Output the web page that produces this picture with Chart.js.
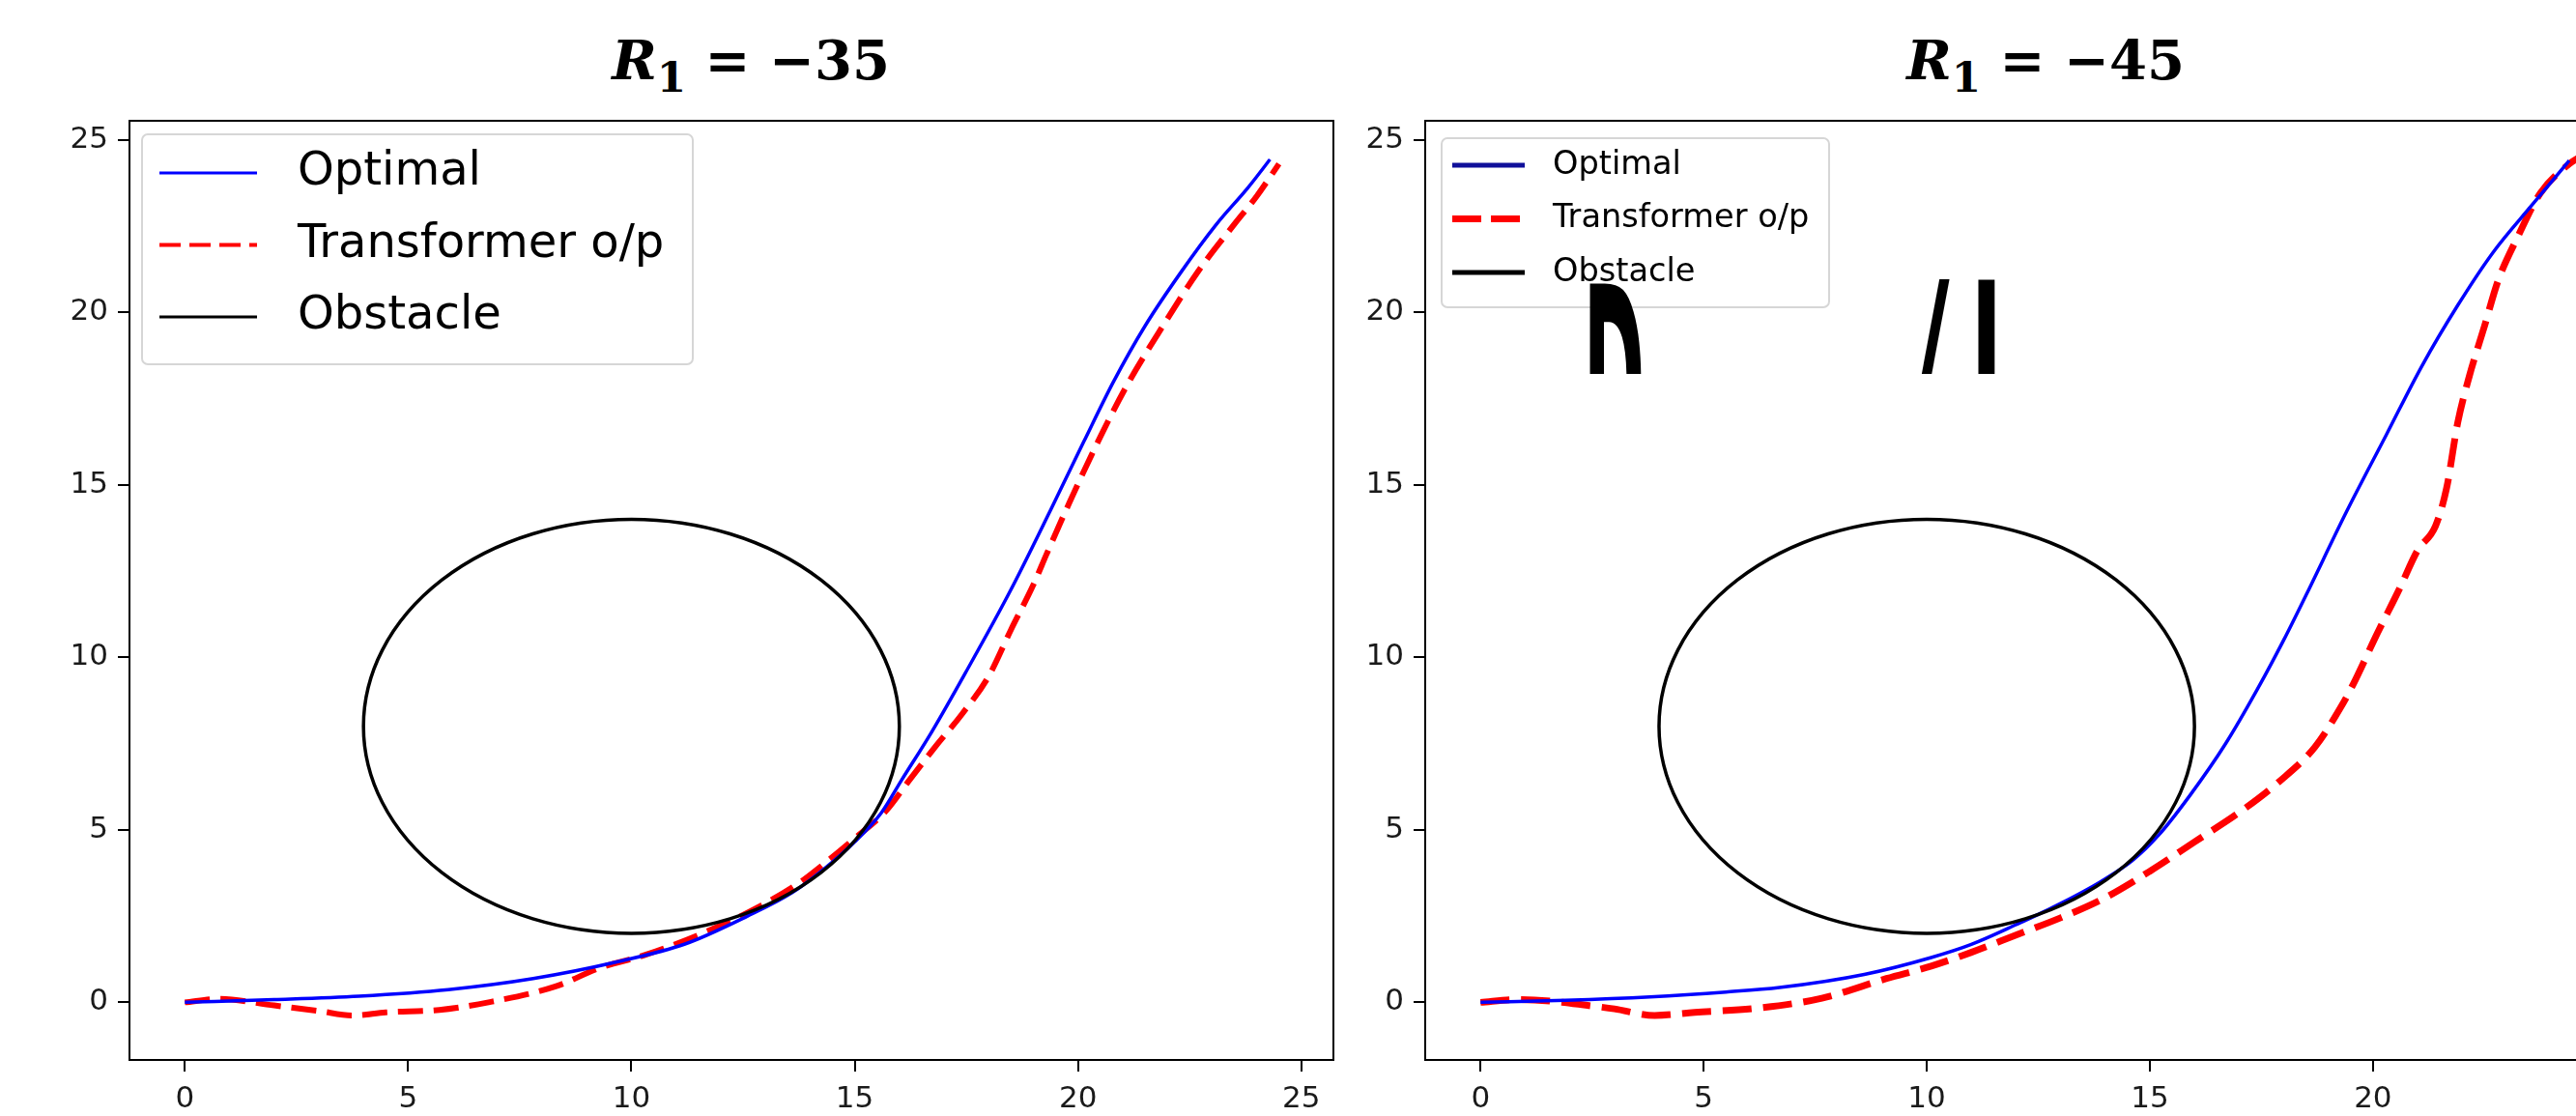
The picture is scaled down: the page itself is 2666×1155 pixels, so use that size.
<!DOCTYPE html>
<html>
<head>
<meta charset="utf-8">
<script src="https://cdn.jsdelivr.net/npm/chart.js@4.4.0/dist/chart.umd.min.js"></script>
<style>
  html, body { margin: 0; padding: 0; background: #fff; overflow: hidden; }
  body { position: relative; width: 2666px; height: 1155px; }
  .title {
    position: absolute; top: 34px; width: 600px; height: 80px;
    text-align: center; line-height: 56px;
    font-family: "DejaVu Serif", serif; font-weight: bold; font-size: 56px; color: #000;
  }
  .title i { font-style: italic; }
  .title sub { font-size: 0.78em; line-height: 0; vertical-align: -13px; }
  #boxL { position: absolute; left: 0; top: 0; }
  #boxR { position: absolute; left: 1400px; top: 0; }
</style>
</head>
<body>
<div class="title" style="left:477px"><i>R</i><sub>1</sub> = −35</div>
<div class="title" style="left:1817px"><i>R</i><sub>1</sub> = −45</div>
<canvas id="boxL" width="1400" height="1155"></canvas>
<canvas id="boxR" width="1340" height="1155"></canvas>
<script>
// axis ticks and limits (same for both panels)
const tickValues = [0, 5, 10, 15, 20, 25];
const xLimits = [-1.24, 25.72];
const yLimits = [-1.67, 25.55];

// obstacle: circle centre and radius in data units
const obstacleCenter = [10, 8];
const obstacleRadius = 6;

// R1 = -35
const leftOptX = [0, 2.0, 3.9, 5.9, 7.8, 9.7, 11.2, 12.6, 13.6, 14.3, 15.0, 15.6, 16.05, 16.73, 17.48, 18.47, 19.38, 20.13, 20.8, 21.5, 22.3, 23.1, 23.8, 24.3];
const leftOptY = [0, 0.08, 0.18, 0.37, 0.69, 1.18, 1.69, 2.5, 3.18, 3.85, 4.65, 5.5, 6.44, 7.85, 9.55, 11.89, 14.25, 16.25, 18.0, 19.6, 21.15, 22.55, 23.6, 24.43];
const leftTrX = [0, 0.75, 2.0, 3.0, 3.75, 4.5, 5.7, 6.8, 8.3, 9.3, 10.3, 11.7, 12.9, 13.8, 14.3, 15.0, 15.7, 16.2, 16.8, 17.4, 18.0, 18.5, 19.0, 19.3, 19.8, 20.5, 21.1, 21.9, 22.7, 23.5, 24.0, 24.5];
const leftTrY = [0, 0.1, -0.09, -0.25, -0.38, -0.29, -0.22, 0, 0.46, 1.0, 1.37, 2.06, 2.8, 3.5, 4.0, 4.75, 5.55, 6.4, 7.4, 8.35, 9.45, 10.8, 12.1, 13.0, 14.46, 16.39, 17.89, 19.6, 21.2, 22.55, 23.36, 24.3];

// R1 = -45
const rightOptX = [0, 1.9, 3.8, 5.5, 6.7, 8.6, 10.1, 11.0, 12.0, 12.9, 13.9, 14.6, 15.2, 15.9, 16.7, 17.4, 18.0, 18.5, 19.4, 20.3, 21.1, 21.9, 22.7, 23.56, 24.4];
const rightOptY = [0, 0.06, 0.16, 0.3, 0.43, 0.81, 1.3, 1.68, 2.25, 2.8, 3.5, 4.1, 4.85, 6.0, 7.5, 9.05, 10.5, 11.8, 14.2, 16.45, 18.45, 20.2, 21.75, 23.1, 24.4];
const rightTrX = [0, 0.8, 1.7, 2.4, 3.0, 3.9, 4.8, 6.2, 7.65, 9.1, 10.1, 11.0, 12.0, 13.0, 13.95, 15.0, 16.0, 17.0, 17.9, 18.7, 19.3, 19.55, 20.1, 20.6, 21.0, 21.4, 21.65, 21.9, 22.15, 22.5, 22.8, 23.25, 23.75, 24.4, 24.7];
const rightTrY = [0, 0.08, 0.02, -0.09, -0.19, -0.38, -0.29, -0.17, 0.12, 0.69, 1.05, 1.45, 1.95, 2.45, 3.0, 3.8, 4.65, 5.5, 6.4, 7.4, 8.6, 9.2, 10.7, 12.0, 13.1, 13.8, 14.9, 16.8, 18.1, 19.6, 20.9, 22.2, 23.45, 24.3, 24.55];

const seriesNames = ['Optimal', 'Transformer o/p', 'Obstacle'];

const zip = (xs, ys) => xs.map((x, i) => ({ x: x, y: ys[i] }));

// circle drawn through the scales, so it turns into an ellipse like the axes do
const obstaclePlugin = {
  id: 'obstacle',
  afterDatasetsDraw(chart, args, opts) {
    const { ctx, chartArea: a, scales: { x, y } } = chart;
    const cx = x.getPixelForValue(obstacleCenter[0]);
    const cy = y.getPixelForValue(obstacleCenter[1]);
    const rx = x.getPixelForValue(obstacleCenter[0] + obstacleRadius) - cx;
    const ry = cy - y.getPixelForValue(obstacleCenter[1] + obstacleRadius);
    ctx.save();
    ctx.beginPath();
    ctx.rect(a.left, a.top, a.right - a.left, a.bottom - a.top);
    ctx.clip();
    ctx.beginPath();
    ctx.ellipse(cx, cy, rx, ry, 0, 0, Math.PI * 2);
    ctx.strokeStyle = '#000';
    ctx.lineWidth = opts.width;
    ctx.stroke();
    ctx.restore();
  }
};

// black frame round the plot area
const framePlugin = {
  id: 'frame',
  afterDraw(chart) {
    const { ctx, chartArea: a } = chart;
    ctx.save();
    ctx.strokeStyle = '#000';
    ctx.lineWidth = 2;
    ctx.strokeRect(a.left, a.top, a.right - a.left, a.bottom - a.top);
    ctx.restore();
  }
};

// legend box sitting inside the axes, top left
const boxLegend = {
  id: 'boxLegend',
  afterDraw(chart, args, o) {
    const { ctx, chartArea: a } = chart;
    const x0 = a.left + o.left, y0 = a.top + o.top;
    ctx.save();
    ctx.beginPath();
    ctx.roundRect(x0, y0, o.width, o.height, 6);
    ctx.fillStyle = 'rgba(255,255,255,0.8)';
    ctx.fill();
    ctx.strokeStyle = '#d6d6d6';
    ctx.lineWidth = 2;
    ctx.stroke();
    const items = chart.data.datasets.map(ds => ({ label: ds.label, color: ds.borderColor }));
    items.push({ label: seriesNames[2], color: '#000' });
    items.forEach((it, i) => {
      const yy = y0 + o.firstRow + i * o.rowGap;
      ctx.beginPath();
      ctx.setLineDash(i === 1 ? o.dash : []);
      ctx.lineWidth = o.lineWidths[i];
      ctx.strokeStyle = o.colors ? o.colors[i] : it.color;
      ctx.moveTo(x0 + o.lineStart, yy);
      ctx.lineTo(x0 + o.lineStart + o.lineLen, yy);
      ctx.stroke();
      ctx.setLineDash([]);
      ctx.fillStyle = '#000';
      ctx.font = o.font;
      ctx.textBaseline = 'middle';
      ctx.fillText(it.label, x0 + o.textStart, yy);
    });
    ctx.restore();
  }
};

// stray oversized letters cut off by a band, right panel only
const scrapsPlugin = {
  id: 'scraps',
  afterDraw(chart, args, o) {
    if (!o.items) return;
    const { ctx, scales: { x, y } } = chart;
    const cut = y.getPixelForValue(o.cutY);
    ctx.save();
    ctx.beginPath();
    ctx.rect(0, 0, chart.width, cut);
    ctx.clip();
    ctx.fillStyle = '#000';
    o.items.forEach(g => {
      ctx.save();
      ctx.translate(x.getPixelForValue(g.x), y.getPixelForValue(g.y));
      ctx.scale(g.sx, g.sy);
      ctx.font = 'bold ' + g.size + 'px "DejaVu Sans"';
      ctx.textBaseline = 'alphabetic';
      ctx.fillText(g.text, 0, 0.73 * g.size);
      ctx.restore();
    });
    ctx.restore();
  }
};

function axis(limits, fit) {
  return {
    type: 'linear',
    min: limits[0],
    max: limits[1],
    afterBuildTicks: s => { s.ticks = tickValues.map(v => ({ value: v })); },
    afterFit: fit,
    border: { display: false },
    grid: { drawOnChartArea: false, drawTicks: true, tickLength: 12, color: '#000', lineWidth: 2 },
    ticks: { padding: 10, color: '#1a1a1a', maxRotation: 0, font: { family: 'DejaVu Sans', size: 31 } }
  };
}

function makeChart(id, optX, optY, trX, trY, look) {
  return new Chart(document.getElementById(id), {
    type: 'scatter',
    data: {
      datasets: [
        {
          label: seriesNames[0], data: zip(optX, optY), showLine: true,
          borderColor: '#0000ff', borderWidth: 3.5, pointRadius: 0,
          cubicInterpolationMode: 'monotone'
        },
        {
          label: seriesNames[1], data: zip(trX, trY), showLine: true,
          borderColor: '#ff0000', borderWidth: look.redWidth, borderDash: look.redDash, pointRadius: 0,
          cubicInterpolationMode: 'monotone'
        }
      ]
    },
    options: {
      responsive: false,
      animation: false,
      layout: { padding: { left: 0, top: 125, right: look.padRight, bottom: 0 } },
      scales: {
        x: axis(xLimits, s => { s.height = 58; }),
        y: axis(yLimits, s => { s.width = look.yWidth; })
      },
      plugins: {
        legend: { display: false },
        tooltip: { enabled: false },
        obstacle: { width: 3.5 },
        boxLegend: look.legend,
        scraps: look.scraps || {}
      }
    },
    plugins: [obstaclePlugin, framePlugin, boxLegend, scrapsPlugin]
  });
}

makeChart('boxL', leftOptX, leftOptY, leftTrX, leftTrY, {
  yWidth: 134, padRight: 20, redWidth: 6, redDash: [26, 11],
  legend: {
    left: 13, top: 14, width: 570, height: 238,
    lineStart: 18, lineLen: 101, textStart: 161, firstRow: 40, rowGap: 74.5,
    lineWidths: [3, 4, 3], dash: [22, 9], font: '48px "DejaVu Sans"'
  }
});

makeChart('boxR', rightOptX, rightOptY, rightTrX, rightTrY, {
  yWidth: 75, padRight: 20, redWidth: 7, redDash: [30, 12],
  legend: {
    left: 17, top: 18, width: 401, height: 175,
    lineStart: 11, lineLen: 75, textStart: 115, firstRow: 28, rowGap: 55.5,
    lineWidths: [5, 7, 5], dash: [30, 10], colors: ['#10109a', '#ff0000', '#000'],
    font: '33.6px "DejaVu Sans"'
  },
  scraps: {
    cutY: 18.21,
    items: [
      { text: 'D', x: 2.3, y: 20.84, size: 70, sx: 1.1, sy: 4 },
      { text: '/', x: 9.75, y: 20.95, size: 64, sx: 1.5, sy: 2.5 },
      { text: 'I', x: 10.98, y: 20.93, size: 64, sx: 1.4, sy: 4 }
    ]
  }
});
</script>
</body>
</html>
